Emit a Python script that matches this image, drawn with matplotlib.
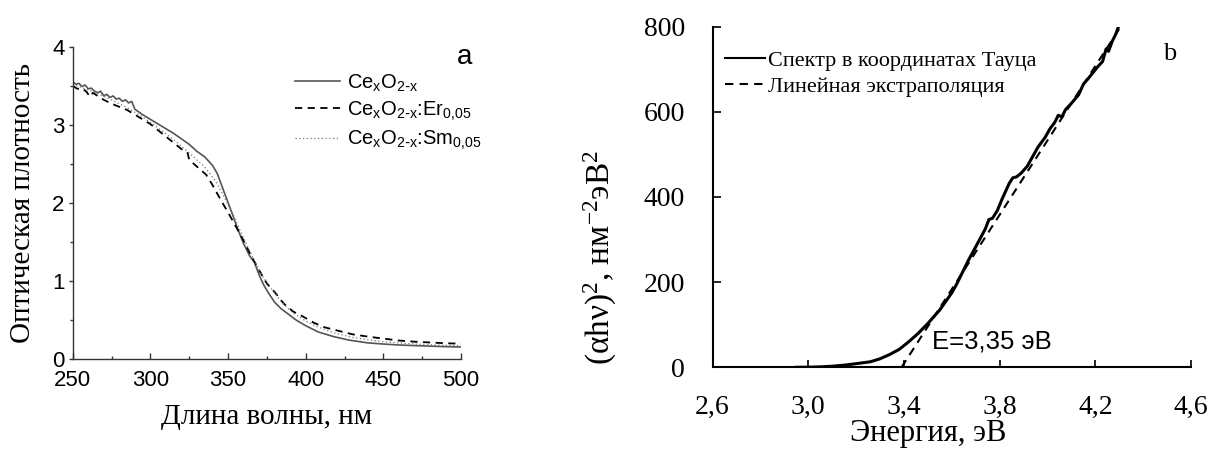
import numpy as np
import matplotlib
matplotlib.use('Agg')
import matplotlib.pyplot as plt
from matplotlib.ticker import MultipleLocator

plt.rcParams['mathtext.default'] = 'regular'

SANS = 'Liberation Sans'
SERIF = 'Liberation Serif'

# ---------------- panel a: optical density spectra ----------------
wl_ce = [250, 252, 254, 256, 258, 260, 262, 264, 266, 268, 270, 272, 274, 276, 278,
         280, 282, 284, 286, 288, 290, 295, 300, 305, 310, 315, 320, 325, 330, 335,
         340, 343, 346, 349, 352, 356, 360, 364, 367, 370, 373, 376, 380, 384, 388,
         394, 400, 408, 418, 428, 440, 450, 460, 470, 480, 490, 500]
od_ce = [3.55, 3.52, 3.53, 3.49, 3.51, 3.46, 3.47, 3.43, 3.41, 3.43, 3.37, 3.39, 3.35,
         3.37, 3.33, 3.34, 3.30, 3.32, 3.28, 3.30, 3.20, 3.13, 3.07, 3.01, 2.95, 2.89,
         2.82, 2.75, 2.66, 2.59, 2.48, 2.38, 2.22, 2.06, 1.90, 1.68, 1.48, 1.32, 1.24,
         1.08, 0.95, 0.85, 0.73, 0.65, 0.59, 0.50, 0.43, 0.35, 0.29, 0.245, 0.21,
         0.195, 0.183, 0.175, 0.168, 0.162, 0.157]

wl_er = [250, 253, 256, 259, 261, 263, 266, 270, 275, 280, 285, 290, 295, 300, 305,
         310, 315, 320, 324, 325, 328, 332, 336, 340, 345, 350, 355, 360, 365, 370,
         375, 380, 386, 392, 398, 405, 412, 420, 430, 440, 450, 460, 470, 480, 490, 500]
od_er = [3.50, 3.46, 3.47, 3.42, 3.36, 3.41, 3.37, 3.32, 3.27, 3.23, 3.19, 3.13, 3.07,
         3.01, 2.93, 2.85, 2.77, 2.69, 2.64, 2.55, 2.50, 2.43, 2.36, 2.23, 2.05, 1.88,
         1.70, 1.52, 1.32, 1.14, 0.97, 0.86, 0.71, 0.61, 0.55, 0.47, 0.41, 0.37, 0.32,
         0.29, 0.265, 0.24, 0.225, 0.215, 0.205, 0.20]

wl_sm = [250, 258, 266, 275, 285, 295, 305, 315, 325, 335, 342, 348, 354, 360, 366,
         372, 378, 385, 392, 400, 407, 418, 430, 440, 450, 460, 470, 480, 490, 500]
od_sm = [3.52, 3.46, 3.40, 3.32, 3.22, 3.10, 2.96, 2.81, 2.64, 2.46, 2.28, 2.06, 1.82,
         1.55, 1.30, 1.07, 0.90, 0.72, 0.59, 0.49, 0.42, 0.34, 0.28, 0.25, 0.225, 0.21,
         0.195, 0.185, 0.178, 0.172]

labels_a = [r'Ce$_x$O$_{2\text{-}x}$',
            r'Ce$_x$O$_{2\text{-}x}$:Er$_{0{,}05}$',
            r'Ce$_x$O$_{2\text{-}x}$:Sm$_{0{,}05}$']

# ---------------- panel b: Tauc plot ----------------
E_tauc = [2.95, 3.00, 3.05, 3.10, 3.15, 3.20, 3.26, 3.30, 3.34, 3.38, 3.42, 3.46, 3.50,
          3.55, 3.60, 3.62, 3.67, 3.70, 3.74, 3.755, 3.77, 3.79, 3.81, 3.84, 3.855, 3.87,
          3.89, 3.915, 3.94, 3.96, 3.99, 4.01, 4.03, 4.045, 4.06, 4.075, 4.10, 4.13,
          4.15, 4.17, 4.19, 4.21, 4.23, 4.245, 4.255, 4.27, 4.285, 4.30]
A_tauc = [0, 0.3, 1, 2.5, 5, 8.5, 13, 20, 30, 42, 60, 80, 103, 135, 175, 195, 252, 283,
          325, 347, 350, 368, 395, 432, 445, 447, 456, 472, 497, 517, 540, 560, 575, 592,
          588, 605, 620, 640, 665, 678, 692, 706, 718, 748, 742, 765, 782, 805]

E_lin = [3.39, 4.30]
A_lin = [0, 795]

labels_b = ['Спектр в координатах Тауца', 'Линейная экстраполяция']
xticks_b = [2.6, 3.0, 3.4, 3.8, 4.2, 4.6]
xticklabels_b = ['2,6', '3,0', '3,4', '3,8', '4,2', '4,6']
yticks_b = [0, 200, 400, 600, 800]

fig = plt.figure(figsize=(12.16, 4.5), dpi=100)

# ============================ panel a ============================
ax1 = fig.add_axes([0.0598, 0.2016, 0.3193, 0.6947])
ax1.plot(wl_ce, od_ce, color='#555555', lw=1.2, label=labels_a[0])
ax1.plot(wl_er, od_er, color='black', lw=1.3, ls=(0, (4, 3)), label=labels_a[1])
ax1.plot(wl_sm, od_sm, color='#777777', lw=0.9, ls=(0, (1, 2)), label=labels_a[2])
ax1.set_xlim(250, 500)
ax1.set_ylim(0, 4)
ax1.xaxis.set_major_locator(MultipleLocator(50))
ax1.xaxis.set_minor_locator(MultipleLocator(25))
ax1.yaxis.set_major_locator(MultipleLocator(1))
ax1.yaxis.set_minor_locator(MultipleLocator(0.5))
for s in ['top', 'right']:
    ax1.spines[s].set_visible(False)
for s in ['left', 'bottom']:
    ax1.spines[s].set_color('#333333')
    ax1.spines[s].set_linewidth(1.0)
ax1.tick_params(axis='x', which='major', direction='in', length=4, width=1, pad=8, colors='#333333')
ax1.tick_params(axis='x', which='minor', direction='in', length=2.5, width=1, colors='#333333')
ax1.tick_params(axis='y', which='major', direction='out', length=3, width=1, pad=3, colors='#333333')
ax1.tick_params(axis='y', which='minor', direction='out', length=2, width=1, colors='#333333')
for lab in ax1.get_xticklabels() + ax1.get_yticklabels():
    lab.set_fontfamily(SANS)
    lab.set_fontsize(16)
    lab.set_color('black')

leg1 = ax1.legend(loc='upper left', bbox_to_anchor=(0.5725, 0.918), frameon=False,
                  borderpad=0, borderaxespad=0, handlelength=2.25, handletextpad=0.35,
                  labelspacing=0.3, prop={'family': SANS, 'size': 14.5})
ax1.text(1.01, 0.967, 'a', transform=ax1.transAxes, ha='center', va='center',
         fontsize=20, family=SANS)

fig.text(23 / 1216, 1 - 203 / 450, 'Оптическая плотность', rotation=90,
         ha='center', va='center', fontsize=21, family=SERIF)
fig.text(266.5 / 1216, 1 - 417 / 450, 'Длина волны, нм',
         ha='center', va='center', fontsize=21, family=SERIF)

# ============================ panel b ============================
ax2 = fig.add_axes([0.586, 0.1838, 0.3935, 0.757])
ax2.plot(E_tauc, A_tauc, color='black', lw=2.2, label=labels_b[0])
ax2.plot(E_lin, A_lin, color='black', lw=1.5, ls=(0, (4, 3)), label=labels_b[1])
ax2.set_xlim(2.6, 4.6)
ax2.set_ylim(0, 800)
ax2.set_xticks(xticks_b)
ax2.set_xticklabels(xticklabels_b)
ax2.set_yticks(yticks_b)
for s in ['top', 'right']:
    ax2.spines[s].set_visible(False)
for s in ['left', 'bottom']:
    ax2.spines[s].set_linewidth(1.5)
ax2.tick_params(axis='x', direction='in', length=5, width=1.2, pad=20)
ax2.tick_params(axis='y', direction='in', length=6, width=1.2, pad=20)
for lab in ax2.get_xticklabels() + ax2.get_yticklabels():
    lab.set_fontfamily(SERIF)
    lab.set_fontsize(20)

leg2 = ax2.legend(loc='upper left', bbox_to_anchor=(0.026, 0.93), frameon=False,
                  borderpad=0, borderaxespad=0, handlelength=1.8, handletextpad=0.15,
                  labelspacing=0.25, prop={'family': SERIF, 'size': 16})
leg2.get_lines()[0].set_linewidth(1.5)
ax2.text(0.955, 0.92, 'b', transform=ax2.transAxes, ha='center', va='center',
         fontsize=19, family=SERIF)
ax2.text(3.517, 60, 'E=3,35 эВ', ha='left', va='center', fontsize=18.5, family=SANS)

fig.text(600 / 1216, 1 - 257 / 450, '(αhν)$^2$, нм$^{-2}$эВ$^2$', rotation=90,
         ha='center', va='center', fontsize=24, family=SERIF)
fig.text(928.5 / 1216, 1 - 434 / 450, 'Энергия, эВ',
         ha='center', va='center', fontsize=22, family=SERIF)

plt.savefig('out.png', dpi=100)
